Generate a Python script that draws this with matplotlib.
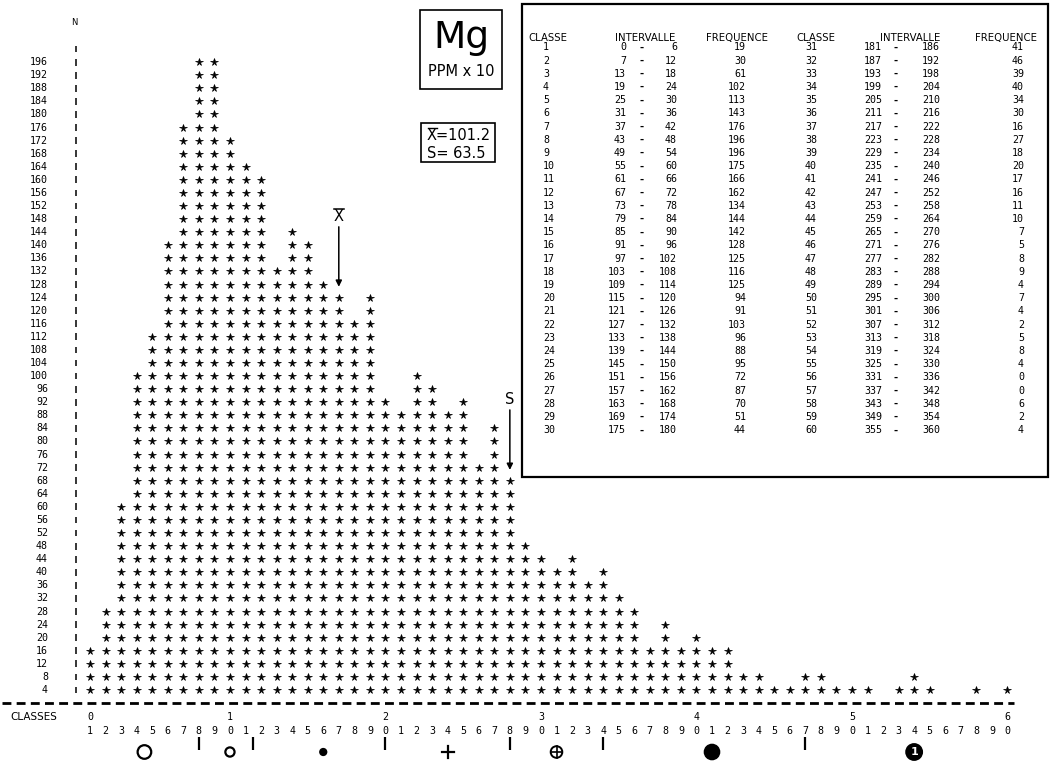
import matplotlib
matplotlib.use("Agg")
import matplotlib.pyplot as plt
from matplotlib.patches import Rectangle, Ellipse

# ---- data -------------------------------------------------------------
classes = list(range(1, 61))
frequencies = [19, 30, 61, 102, 113, 143, 176, 196, 196, 175,
               166, 162, 134, 144, 142, 128, 125, 116, 125, 94,
               91, 103, 96, 88, 95, 72, 87, 70, 51, 44,
               41, 46, 39, 40, 34, 30, 16, 27, 18, 20,
               17, 16, 11, 10, 7, 5, 8, 9, 4, 7,
               4, 2, 5, 8, 4, 0, 0, 6, 2, 4]
class_width = 6          # ppm x 10 per class
row_step = 4             # counts per printed row
y_ticks = list(range(4, 197, 4))
mean_value = 101.2
std_value = 63.5
mean_class = 17
std_class = 28
group_bounds = [8, 11.5, 20, 28, 34, 47]
group_marks = [4.5, 10, 16, 24, 31, 41, 54]

# ---- page geometry (pixels) ----------------------------------------
W, H = 1054, 762
X0_PX, COL_PX = 90.0, 15.55      # class 1 position, class pitch
Y4_PX, ROW_PX = 690.0, 13.08     # row "4" position, row pitch
UNIT_PX = ROW_PX / row_step

fig = plt.figure(figsize=(W / 100, H / 100), dpi=100)
fig.patch.set_facecolor("white")
ax = fig.add_axes([0, 0, 1, 1])
ax.set_xlim(1 - X0_PX / COL_PX, 1 + (W - X0_PX) / COL_PX)
ax.set_ylim(4 - (H - Y4_PX) / UNIT_PX, 4 + Y4_PX / UNIT_PX)
ax.axis("off")

MONO = "DejaVu Sans Mono"
SANS = "DejaVu Sans"


def fx(px):
    return px / W


def fy(py):
    return 1 - py / H


def dx(px):
    return 1 + (px - X0_PX) / COL_PX


def dy(py):
    return 4 + (Y4_PX - py) / UNIT_PX


# ---- star histogram ---------------------------------------------------
xs, ys = [], []
for c, f in zip(classes, frequencies):
    for k in range(1, f // row_step + 1):
        xs.append(c)
        ys.append(k * row_step)
ax.plot(xs, ys, ls="none", marker="*", markersize=5.4, color="black",
        markeredgewidth=0.5)

# vertical axis: labels, bar characters and N
for v in y_ticks:
    ax.text(dx(48), v, str(v), ha="right", va="center", family=MONO,
            fontsize=7.2, color="black")
for v in range(4, 201, 4):
    ax.plot([dx(76), dx(76)], [v - 3.4 / UNIT_PX, v + 3.4 / UNIT_PX],
            color="black", lw=1.1, solid_capstyle="butt")
ax.text(dx(74), 208, "N", ha="center", va="center", family=SANS,
        fontsize=6, color="black")

# horizontal axis: dashed rule, class digits
ax.plot([dx(2), dx(1014)], [0, 0], color="black", lw=2.0,
        dashes=(3.2, 1.9), solid_capstyle="butt")
ax.text(dx(10), dy(717), "CLASSES", ha="left", va="center", family=SANS,
        fontsize=7.5, color="black")
for c in classes:
    ax.text(c, dy(731), str(c % 10), ha="center", va="center",
            family=MONO, fontsize=7.2, color="black")
for c in [1] + list(range(10, 61, 10)):
    ax.text(c, dy(717), str(c // 10), ha="center", va="center",
            family=MONO, fontsize=7.2, color="black")

# group separators and symbols below the class scale
for b in group_bounds:
    ax.plot([b, b], [dy(737), dy(750)], color="black", lw=1.6,
            solid_capstyle="butt")

sym_y = dy(752)
rx_unit = 1.0 / COL_PX
ry_unit = 1.0 / UNIT_PX


def ring(c, r, filled=False, lw=1.6):
    e = Ellipse((c, sym_y), 2 * r * rx_unit, 2 * r * ry_unit,
                facecolor="black" if filled else "none",
                edgecolor="black", lw=lw)
    ax.add_patch(e)


def cross(c, r, lw):
    ax.plot([c - r * rx_unit, c + r * rx_unit], [sym_y, sym_y],
            color="black", lw=lw)
    ax.plot([c, c], [sym_y - r * ry_unit, sym_y + r * ry_unit],
            color="black", lw=lw)


ring(group_marks[0], 6.8)
ring(group_marks[1], 4.6)
ring(group_marks[2], 3.0, filled=True)
cross(group_marks[3], 6, 1.6)
ring(group_marks[4], 5.8, lw=1.4)
cross(group_marks[4], 5.8, 1.2)
ring(group_marks[5], 7.2, filled=True)
ring(group_marks[6], 7.8, filled=True)
ax.text(group_marks[6], sym_y, "1", ha="center", va="center", color="white",
        family=SANS, fontsize=8, fontweight="bold")


# mean and standard deviation arrows
def marker_arrow(c, label):
    top = frequencies[c - 1] // row_step * row_step
    tip = top + 3.3
    tail = tip + 60 / UNIT_PX
    ax.annotate("", xy=(c, tip), xytext=(c, tail),
                arrowprops=dict(arrowstyle="-|>", color="black", lw=1.1,
                                mutation_scale=9, shrinkA=0, shrinkB=0))
    ax.text(c, tail + 10 / UNIT_PX, label, ha="center", va="center",
            family=SANS, fontsize=10.5, color="black")
    return tail


t = marker_arrow(mean_class, "X")
ax.plot([mean_class - 5 * rx_unit, mean_class + 5 * rx_unit],
        [t + 18 / UNIT_PX] * 2, color="black", lw=1.1)
marker_arrow(std_class, "S")

# ---- element / statistics boxes ---------------------------------------
ax.add_patch(Rectangle((dx(420), dy(89)), (502 - 420) / COL_PX,
                       (89 - 10) / UNIT_PX, facecolor="white",
                       edgecolor="black", lw=1.2))
fig.text(fx(461), fy(38), "Mg", ha="center", va="center", family=SANS,
         fontsize=27, color="black")
fig.text(fx(461), fy(72), "PPM x 10", ha="center", va="center", family=SANS,
         fontsize=10.5, color="black")

ax.add_patch(Rectangle((dx(421), dy(162)), (495 - 421) / COL_PX,
                       (162 - 123) / UNIT_PX, facecolor="white",
                       edgecolor="black", lw=1.2))
fig.text(fx(427), fy(135), f"X={mean_value:.1f}", ha="left", va="center",
         family=SANS, fontsize=10.5)
ax.plot([dx(427.5), dx(436.5)], [dy(127.5)] * 2, color="black", lw=1.0)
fig.text(fx(427), fy(153), f"S= {std_value:.1f}", ha="left", va="center",
         family=SANS, fontsize=10.5)

# ---- frequency table --------------------------------------------------
ax.add_patch(Rectangle((dx(522), dy(477)), (1048 - 522) / COL_PX,
                       (477 - 4) / UNIT_PX, facecolor="white",
                       edgecolor="black", lw=1.6))

blocks = [
    dict(cls=543, head=(548, 645, 737), low=626, dash=641, high=677, freq=746),
    dict(cls=805, head=(816, 910, 1006), low=882, dash=896, high=940, freq=1024),
]
for b in blocks:
    for hx, name in zip(b["head"], ["CLASSE", "INTERVALLE", "FREQUENCE"]):
        fig.text(fx(hx), fy(38), name, ha="center", va="center",
                 family=SANS, fontsize=7.3)

for i, (c, f) in enumerate(zip(classes, frequencies)):
    b = blocks[0] if c <= 30 else blocks[1]
    row = i % 30
    py = 47.5 + row * 13.2
    lo = 0 if c == 1 else (c - 1) * class_width + 1
    hi = c * class_width
    fig.text(fx(b["cls"]), fy(py), str(c), ha="left", va="center",
             family=MONO, fontsize=7.2)
    fig.text(fx(b["low"]), fy(py), str(lo), ha="right", va="center",
             family=MONO, fontsize=7.2)
    fig.text(fx(b["dash"]), fy(py), "-", ha="center", va="center",
             family=MONO, fontsize=7.2, fontweight="bold")
    fig.text(fx(b["high"]), fy(py), str(hi), ha="right", va="center",
             family=MONO, fontsize=7.2)
    fig.text(fx(b["freq"]), fy(py), str(f), ha="right", va="center",
             family=MONO, fontsize=7.2)

fig.savefig("out.png", dpi=100, facecolor="white")
